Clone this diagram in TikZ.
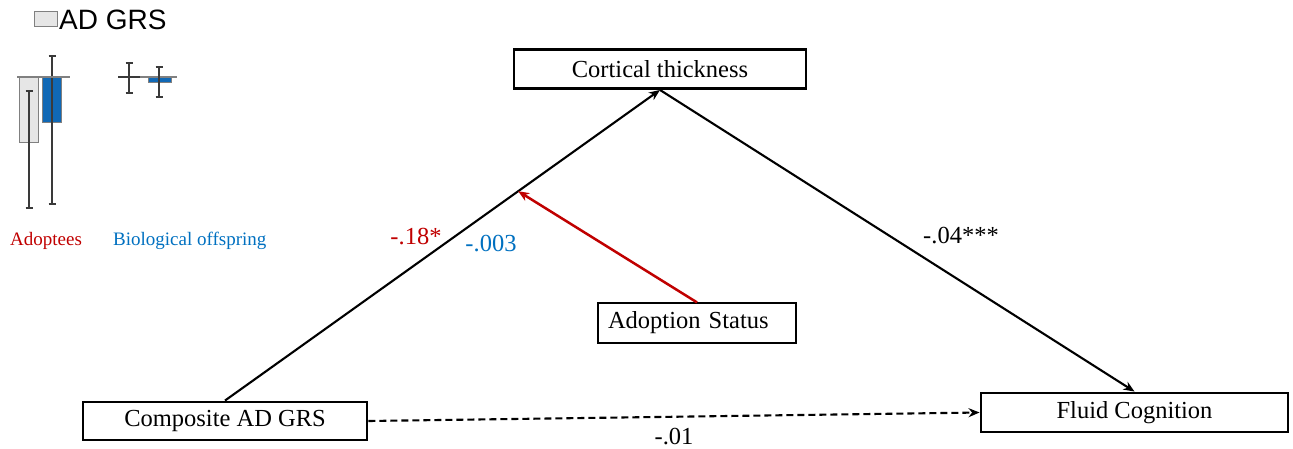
\documentclass[tikz,border=0pt]{standalone}
\usepackage{fontspec}
\setmainfont{Liberation Serif}
\newfontfamily\chartsans{Liberation Sans}
\usetikzlibrary{arrows.meta,calc}

\definecolor{adred}{HTML}{C00000}
\definecolor{bioblue}{HTML}{0070C0}
\definecolor{barblue}{HTML}{1068B5}
\definecolor{bargray}{HTML}{E6E6E6}
\definecolor{edgegray}{HTML}{808080}
\definecolor{errgray}{HTML}{3A3A3A}

% error bar with caps: x, y top, y bottom
\newcommand\grserrbar[3]{%
  \draw[errline] (#1,#2) -- (#1,#3) (#1-3.5,#2) -- (#1+3.5,#2) (#1-3.5,#3) -- (#1+3.5,#3);}

\begin{document}
\begin{tikzpicture}[x=1pt,y=-1pt,
  varbox/.style={draw, line width=2.9pt, minimum height=39pt, inner sep=0pt,
    font=\fontsize{24.5}{28}\selectfont},
  modbox/.style={draw, line width=1.2pt, minimum height=40pt, inner ysep=0pt,
    inner xsep=10pt, text width=178pt, align=left, font=\fontsize{24.5}{28}\selectfont},
  path/.style={line width=2.1pt, -{Stealth[length=11pt,width=9pt]}},
  coef/.style={font=\fontsize{24.5}{28}\selectfont, inner sep=0pt},
  grayfill/.style={fill=bargray, draw=edgegray, line width=0.9pt},
  bluefill/.style={fill=barblue, draw=edgegray, line width=0.9pt},
  errline/.style={draw=errgray, line width=1.4pt},
  zeroline/.style={draw=edgegray, line width=1.1pt},
  grouplabel/.style={font=\fontsize{19}{22}\selectfont, inner sep=0pt, anchor=base west}
]
\useasboundingbox (0,0) rectangle (1293,448);

% ---- inset bar chart ----
\draw[grayfill] (34,11) rectangle (57,26);
\node[anchor=west, inner sep=0pt, font=\chartsans\fontsize{28}{32}\selectfont] (legend) at (59,19.5) {AD GRS};

% adoptees
\draw[grayfill] (19,77) rectangle (38,142);
\draw[bluefill] (42,77) rectangle (61,122);
\grserrbar{29}{91}{208}
\grserrbar{52}{56}{204}
\draw[zeroline] (17,77) -- (70,77);

% biological offspring
\draw[bluefill] (148,77) rectangle (171,82);
\draw[zeroline] (118,77) -- (177,77);
\draw[errline] (118,77) -- (140,77);
\grserrbar{129}{63}{93}
\grserrbar{159}{67}{97}

\node[grouplabel, text=adred] (adlab) at (10,245) {Adoptees};
\node[grouplabel, text=bioblue] (biolab) at (113,245) {Biological offspring};

% ---- mediation model ----
\node[varbox, minimum width=292pt] (cort) at (660,69) {Cortical thickness};
\node[varbox, minimum width=284pt, minimum height=38pt] (comp) at (225,421) {Composite AD GRS};
\node[varbox, minimum width=307pt] (fluid) at (1134.5,412.5) {Fluid Cognition};
\node[modbox] (adopt) at (697,323) {Adoption Status};

\draw[path] (comp.north) -- (cort.south);
\draw[path] (cort.south) -- (fluid.north);
\draw[path, dash pattern=on 7pt off 4pt] (comp.east) -- (fluid.west);

\coordinate (mod) at ($(comp.north)!0.674!(cort.south)$);
\draw[path, draw=adred, fill=adred, line width=2.5pt] (adopt.north) -- (mod);

\node[coef, text=adred] (c1) at (416,237) {-.18*};
\node[coef, text=bioblue] (c2) at (491,244) {-.003};
\node[coef] (c3) at (961,236) {-.04***};
\node[coef] (c4) at (674,437) {-.01};
\end{tikzpicture}
\end{document}
